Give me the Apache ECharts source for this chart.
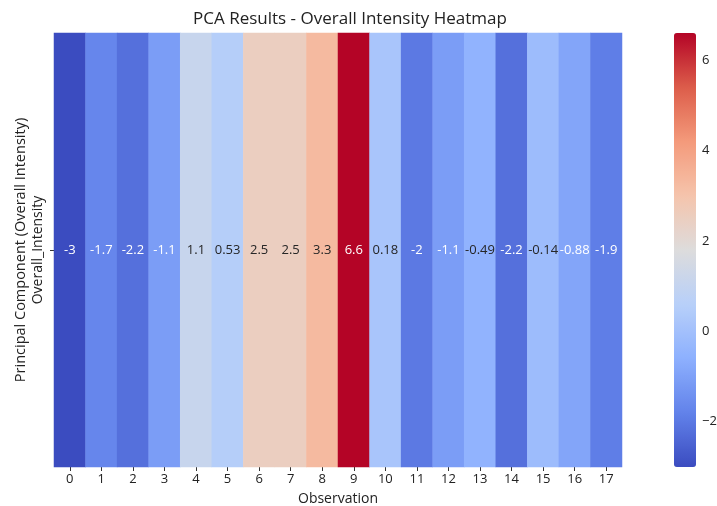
<!DOCTYPE html>
<html><head><meta charset="utf-8">
<script src="https://cdn.jsdelivr.net/npm/echarts@6/dist/echarts.min.js"></script>
<style>html,body{margin:0;padding:0;background:#fff}#c{width:717px;height:506px}</style>
</head><body><div id="c"></div>
<script>
var observations = ['0','1','2','3','4','5','6','7','8','9','10','11','12','13','14','15','16','17'];
var rows = ['Overall_Intensity'];
var values = [-3, -1.7, -2.2, -1.1, 1.1, 0.53, 2.5, 2.5, 3.3, 6.6, 0.18, -2, -1.1, -0.49, -2.2, -0.14, -0.88, -1.9];
var colorbarTicks = [-2, 0, 2, 4, 6];
var vMin = -3, vMax = 6.6;
var coolwarm = ['#3b4cc0','#6282ea','#8db0fe','#b8d0f9','#dddcdc','#f5c4ac','#f49a7b','#dc5d4a','#b40426'];

var font = 'Open Sans';
var data = values.map(function (v, i) {
  var dark = v > -0.6 && v < 5;
  return { value: [i, 0, v], label: { color: dark ? '#262626' : '#ffffff' } };
});

var chart = echarts.init(document.getElementById('c'));
chart.setOption({
  animation: false,
  textStyle: { fontFamily: font },
  title: { text: 'PCA Results - Overall Intensity Heatmap', left: 345, top: 6, textAlign: 'center',
    textStyle: { fontFamily: font, fontSize: 17, fontWeight: 'normal', color: '#222' } },
  grid: [
    { left: 54, right: 95, top: 33, bottom: 39, outerBoundsMode: 'none', containLabel: false },
    { left: 674, width: 22, top: 33, height: 434, outerBoundsMode: 'none', containLabel: false }
  ],
  xAxis: [
    { type: 'category', data: observations, gridIndex: 0,
      name: 'Observation', nameLocation: 'middle', nameGap: 25, nameMoveOverlap: false,
      nameTextStyle: { fontFamily: font, fontSize: 14, color: '#222' },
      axisLine: { show: false }, splitLine: { show: false },
      axisTick: { show: true, alignWithLabel: true, length: 4, lineStyle: { color: '#333' } },
      axisLabel: { fontFamily: font, fontSize: 13, color: '#222', margin: 6 } },
    { type: 'value', gridIndex: 1, show: false, min: 0, max: 1 }
  ],
  yAxis: [
    { type: 'category', data: rows, gridIndex: 0,
      name: 'Principal Component (Overall Intensity)', nameLocation: 'middle', nameGap: 26, nameMoveOverlap: false,
      nameTextStyle: { fontFamily: font, fontSize: 14.5, color: '#222' },
      axisLine: { show: false }, splitLine: { show: false },
      axisTick: { show: true, alignWithLabel: true, length: 4, lineStyle: { color: '#333' } },
      axisLabel: { rotate: 90, fontFamily: font, fontSize: 14, color: '#222', margin: 9 } },
    { type: 'value', gridIndex: 1, position: 'right', min: vMin, max: vMax,
      axisLine: { show: false }, splitLine: { show: false },
      axisTick: { show: true, length: 4, lineStyle: { color: '#333' }, customValues: colorbarTicks },
      axisLabel: { fontFamily: font, fontSize: 13, color: '#222', margin: 6, customValues: colorbarTicks,
        formatter: function (v) { return v < 0 ? '\u2212' + Math.abs(v) : String(v); } } }
  ],
  visualMap: {
    type: 'continuous', min: vMin, max: vMax, calculable: false, show: true,
    seriesIndex: 0, orient: 'vertical', left: 674, top: 33, padding: 0,
    itemWidth: 22, itemHeight: 434, text: null, showLabel: false,
    inRange: { color: coolwarm }
  },
  series: [{
    type: 'heatmap', xAxisIndex: 0, yAxisIndex: 0, data: data,
    label: { show: true, fontFamily: font, fontSize: 13,
      formatter: function (p) { return String(p.value[2]); } },
    itemStyle: { borderWidth: 0 },
    emphasis: { disabled: true }
  }]
});
</script></body></html>
